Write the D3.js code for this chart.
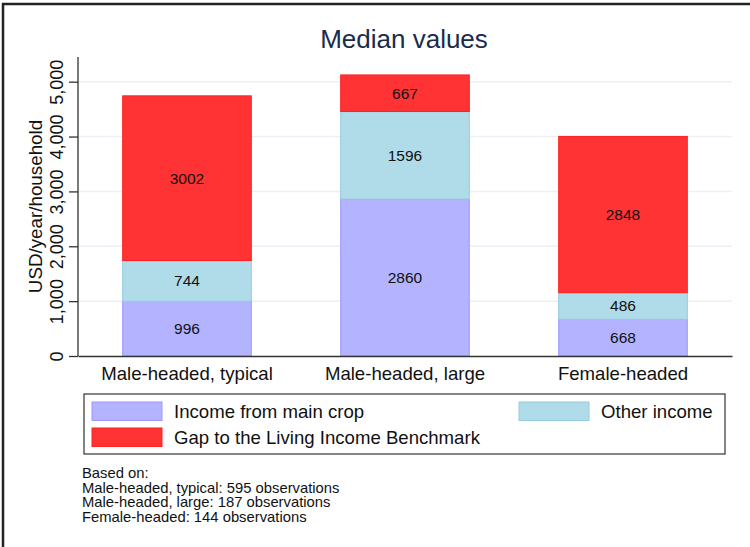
<!DOCTYPE html>
<html>
<head>
<meta charset="utf-8">
<script src="https://cdn.jsdelivr.net/npm/d3@7"></script>
<style>
  body { margin: 0; background: #fff; }
  text { font-family: "Liberation Sans", Arial, sans-serif; }
</style>
</head>
<body>
<div id="chart"></div>
<script>
// data
var groups = ["Male-headed, typical", "Male-headed, large", "Female-headed"];
var mainCrop = [996, 2860, 668];
var otherIncome = [744, 1596, 486];
var gap = [3002, 667, 2848];
var yTicks = [0, 1000, 2000, 3000, 4000, 5000];
var seriesNames = ["Income from main crop", "Other income", "Gap to the Living Income Benchmark"];
var notes = ["Based on:",
  "Male-headed, typical: 595 observations",
  "Male-headed, large: 187 observations",
  "Female-headed: 144 observations"];

var W = 750, H = 547;
var margin = { top: 57, right: 18, bottom: 191, left: 78 },
  width = W - margin.left - margin.right,
  height = H - margin.top - margin.bottom;

var fills = ["#b3b3ff", "#b0dbe8", "#ff3333"];
var strokes = ["#9a9aff", "#93cbe0", "#ff2020"];

var svg = d3.select("#chart")
  .append("svg")
  .attr("width", W)
  .attr("height", H);

// outer frame
svg.append("rect")
  .attr("x", 3).attr("y", 4)
  .attr("width", 800).attr("height", 600)
  .attr("fill", "none")
  .attr("stroke", "#222")
  .attr("stroke-width", 2.5);

var g = svg.append("g")
  .attr("transform", "translate(" + margin.left + "," + margin.top + ")");

var x = d3.scaleBand()
  .domain(groups)
  .range([0, width])
  .paddingInner(0.41)
  .paddingOuter(0.205);

var y = d3.scaleLinear()
  .domain([0, 5450])
  .range([height, 0]);

// gridlines
g.append("g")
  .selectAll("line")
  .data(yTicks.slice(1))
  .enter().append("line")
  .attr("x1", 0).attr("x2", width)
  .attr("y1", function (d) { return y(d); })
  .attr("y2", function (d) { return y(d); })
  .attr("stroke", "#eaf0f5")
  .attr("stroke-width", 1.5);

// stack
var rows = groups.map(function (k, i) {
  return { group: k, main: mainCrop[i], other: otherIncome[i], gap: gap[i] };
});
var stack = d3.stack().keys(["main", "other", "gap"])(rows);

stack.forEach(function (layer, li) {
  var lg = g.append("g");
  lg.selectAll("rect")
    .data(layer)
    .enter().append("rect")
    .attr("x", function (d) { return x(d.data.group); })
    .attr("y", function (d) { return y(d[1]); })
    .attr("width", x.bandwidth())
    .attr("height", function (d) { return y(d[0]) - y(d[1]); })
    .attr("fill", fills[li])
    .attr("stroke", strokes[li])
    .attr("stroke-width", 1);
  lg.selectAll("text")
    .data(layer)
    .enter().append("text")
    .attr("x", function (d) { return x(d.data.group) + x.bandwidth() / 2; })
    .attr("y", function (d) { return (y(d[0]) + y(d[1])) / 2; })
    .attr("dy", "0.35em")
    .attr("text-anchor", "middle")
    .attr("font-size", "15.5px")
    .attr("fill", "#111")
    .text(function (d) { return d[1] - d[0]; });
});

// y axis
var yAxis = g.append("g")
  .call(d3.axisLeft(y).tickValues(yTicks).tickSize(9).tickFormat(d3.format(",")));
yAxis.select(".domain").attr("d", "M0," + height + "V0").attr("stroke", "#333").attr("stroke-width", 1.3);
yAxis.selectAll(".tick line").attr("stroke", "#333").attr("stroke-width", 1.3);
yAxis.selectAll(".tick text")
  .attr("font-size", "18px")
  .attr("fill", "#111")
  .attr("text-anchor", "middle")
  .attr("transform", "translate(-21,0) rotate(-90)")
  .attr("x", 0).attr("dy", "0.35em");

// x axis
var xAxis = g.append("g")
  .attr("transform", "translate(0," + height + ")")
  .call(d3.axisBottom(x).tickSize(0).tickPadding(11));
xAxis.select(".domain").attr("stroke", "#333").attr("stroke-width", 1.3);
xAxis.selectAll(".tick text")
  .attr("font-size", "18.6px")
  .attr("fill", "#111");

// axis title
svg.append("text")
  .attr("transform", "translate(42," + (margin.top + height / 2) + ") rotate(-90)")
  .attr("text-anchor", "middle")
  .attr("font-size", "18.8px")
  .attr("fill", "#111")
  .text("USD/year/household");

// title
svg.append("text")
  .attr("x", 404).attr("y", 48)
  .attr("text-anchor", "middle")
  .attr("font-size", "26px")
  .attr("fill", "#1a2b4c")
  .text("Median values");

// legend
var legend = svg.append("g");
legend.append("rect")
  .attr("x", 84).attr("y", 394)
  .attr("width", 641).attr("height", 60)
  .attr("fill", "#fff")
  .attr("stroke", "#333")
  .attr("stroke-width", 1.2);

var legendItems = [
  { i: 0, x: 92, y: 402 },
  { i: 1, x: 519, y: 402 },
  { i: 2, x: 92, y: 428 }
];
legendItems.forEach(function (it) {
  legend.append("rect")
    .attr("x", it.x).attr("y", it.y)
    .attr("width", 70).attr("height", 18.5)
    .attr("fill", fills[it.i])
    .attr("stroke", strokes[it.i]);
  legend.append("text")
    .attr("x", it.x + 82).attr("y", it.y + 9.5)
    .attr("dy", "0.35em")
    .attr("font-size", "18.6px")
    .attr("fill", "#111")
    .text(seriesNames[it.i]);
});

// notes
svg.append("g")
  .selectAll("text")
  .data(notes)
  .enter().append("text")
  .attr("x", 82)
  .attr("y", function (d, i) { return 478 + i * 14.7; })
  .attr("font-size", "14.8px")
  .attr("fill", "#111")
  .text(function (d) { return d; });
</script>
</body>
</html>
